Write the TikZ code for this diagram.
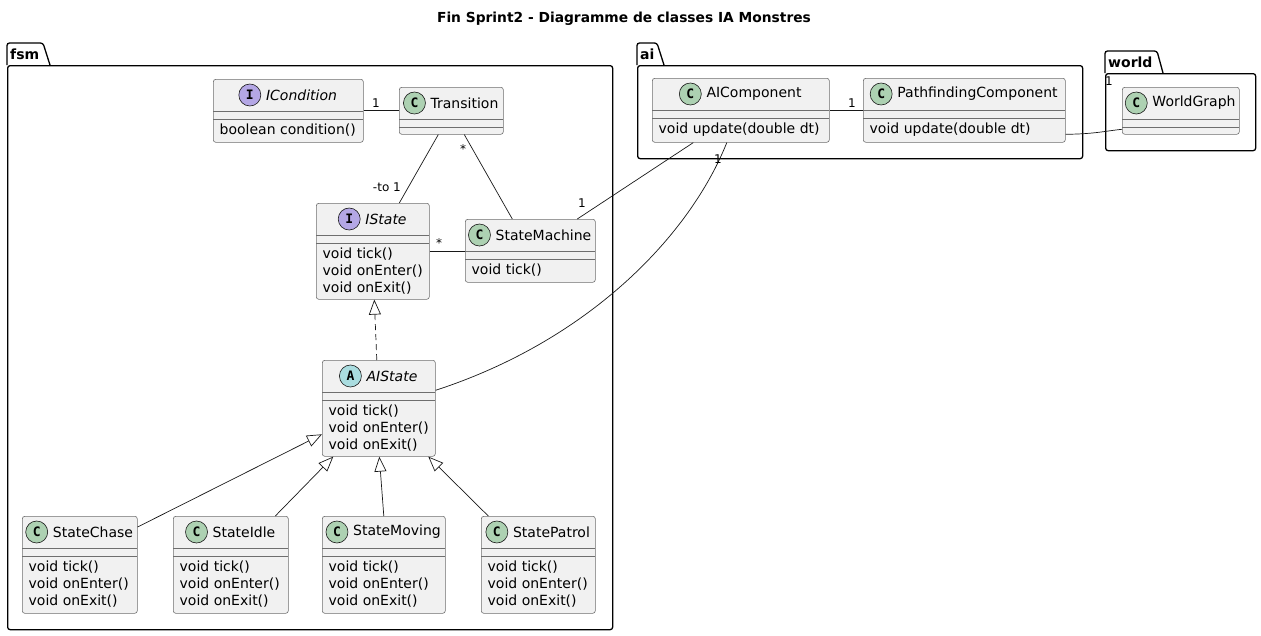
\documentclass[tikz,border=0pt]{standalone}
\usepackage{fontspec}
\setmainfont{DejaVu Sans}
\newfontfamily\letterfont{DejaVu Sans Mono}
\usetikzlibrary{arrows.meta}
\definecolor{boxfill}{HTML}{F1F1F1}
\definecolor{ink}{HTML}{181818}
\definecolor{boxline}{HTML}{6E6E6E}
\definecolor{ccls}{HTML}{ADD1B2}
\definecolor{cint}{HTML}{B4A7E5}
\definecolor{cabs}{HTML}{A9DCDF}
\tikzset{
  classbox/.style={draw=boxline, fill=boxfill, line width=0.6pt, rounded corners=2.5pt, inner sep=0pt},
  classline/.style={draw=boxline, line width=0.5pt},
  pkgbox/.style={draw=black, line width=1.3pt, rounded corners=2.5pt, inner sep=0pt},
  pkglabel/.style={font=\fontsize{14}{16}\selectfont\bfseries, inner sep=0pt},
  icon/.style={circle, draw=ink, line width=0.6pt, minimum size=22pt, inner sep=0pt, font=\fontsize{13}{13}\letterfont\bfseries},
  member/.style={font=\fontsize{14}{17}\selectfont, inner sep=0pt, anchor=west},
  conn/.style={draw=ink, line width=0.7pt},
  mult/.style={font=\fontsize{12}{14}\selectfont, inner sep=0pt},
  gen/.style={conn, -{Triangle[open, length=15pt, width=12pt, fill=white]}},
}
% #1 name, #2 x1, #3 y1, #4 x2, #5 y2, #6 letter, #7 colour, #8 title, #9 members
\newcommand\umlclass[9]{%
  \node[classbox, minimum width={#4-#2}, minimum height={#5-#3}, anchor=north west] (#1) at (#2,#3) {};
  \draw[classline] (#2,#3+32) -- (#4,#3+32);
  \draw[classline] (#2,#3+40) -- (#4,#3+40);
  \node[inner sep=0pt, font=\fontsize{14}{17}\selectfont] (#1-t) at ({(#2+#4)/2},#3+16) {\hspace*{27pt}#8};
  \node[icon, fill=#7] (#1-i) at ([xshift=11pt]#1-t.west) {#6};
  \foreach \m [count=\i] in {#9} {\node[member] at (#2+6.5, #3+40+11.5+17*\i-17) {\m};}
}
\begin{document}
\begin{tikzpicture}[x=1pt, y=-1pt]
\useasboundingbox (0,0) rectangle (1261,635);
% title
\node[font=\fontsize{13.8}{16}\selectfont\bfseries, inner sep=0pt] (title) at (624,19) {Fin Sprint2 - Diagramme de classes IA Monstres};
% packages
\draw[pkgbox] (7,65) -- (7,43) -- (43,43) -- (50,65);
\node[pkgbox, minimum width=605pt, minimum height=564pt, anchor=north west] (fsm) at (7,65) {};
\node[pkglabel, anchor=west] (fsm-l) at (10,54) {fsm};
\draw[pkgbox] (637,65) -- (637,43) -- (657,43) -- (664,65);
\node[pkgbox, minimum width=445pt, minimum height=93pt, anchor=north west] (ai) at (637,65) {};
\node[pkglabel, anchor=west] (ai-l) at (640,54) {ai};
\draw[pkgbox] (1105,73) -- (1105,51) -- (1157,51) -- (1163,73);
\node[pkgbox, minimum width=150pt, minimum height=77pt, anchor=north west] (world) at (1105,73) {};
\node[pkglabel, anchor=west] (world-l) at (1108,62) {world};
% classes
\umlclass{ICondition}{213}{79}{363}{142}{I}{cint}{\itshape ICondition}{boolean condition()}
\umlclass{Transition}{399}{87}{503}{134}{C}{ccls}{Transition}{}
\umlclass{IState}{316}{203}{429}{299}{I}{cint}{\itshape IState}{void tick(),void onEnter(),void onExit()}
\umlclass{StateMachine}{465}{219}{595}{282}{C}{ccls}{StateMachine}{void tick()}
\umlclass{AIState}{322}{360}{435}{456}{A}{cabs}{\itshape AIState}{void tick(),void onEnter(),void onExit()}
\umlclass{StateChase}{22}{516}{137}{613}{C}{ccls}{StateChase}{void tick(),void onEnter(),void onExit()}
\umlclass{StateIdle}{173}{516}{288}{613}{C}{ccls}{StateIdle}{void tick(),void onEnter(),void onExit()}
\umlclass{StateMoving}{322}{516}{445}{613}{C}{ccls}{StateMoving}{void tick(),void onEnter(),void onExit()}
\umlclass{StatePatrol}{481}{516}{595}{613}{C}{ccls}{StatePatrol}{void tick(),void onEnter(),void onExit()}
\umlclass{AIComponent}{652}{78}{829}{142}{C}{ccls}{AIComponent}{void update(double dt)}
\umlclass{Pathfinding}{863}{78}{1065}{142}{C}{ccls}{PathfindingComponent}{void update(double dt)}
\umlclass{WorldGraph}{1122}{87}{1239}{134}{C}{ccls}{WorldGraph}{}
% connectors
\draw[conn] (ICondition.east) -- (Transition.west);
\node[mult] (m1) at (376,103) {1};
\draw[conn] ([xshift=-13pt]Transition.south) -- ([xshift=26.5pt]IState.north);
\node[mult, anchor=east] (m2) at (401,187) {-to 1};
\draw[conn] ([xshift=13pt]Transition.south) -- ([xshift=-18pt]StateMachine.north);
\node[mult] (m3) at (463,149) {*};
\draw[conn] (IState.east) -- (StateMachine.west |- IState.east);
\node[mult] (m4) at (439,243) {*};
\draw[conn, dashed, dash pattern=on 6pt off 4pt, -{Triangle[open, length=15pt, width=12pt, fill=white]}] ([xshift=-2pt]AIState.north) -- ([xshift=1.5pt]IState.south);
\draw[gen] ([yshift=-11pt]StateChase.north east) -- ([yshift=-26pt]AIState.west);
\draw[gen] ([xshift=44.5pt]StateIdle.north) -- ([xshift=-45.5pt]AIState.south);
\draw[gen] (StateMoving.north) -- ([xshift=0.5pt]AIState.south);
\draw[gen] ([xshift=-50pt]StatePatrol.north) -- ([xshift=49.5pt]AIState.south);
\draw[conn] ([xshift=-47.5pt]AIComponent.south) -- ([xshift=47pt]StateMachine.north);
\node[mult] (m5) at (582,203) {1};
\draw[conn] ([xshift=-14pt]AIComponent.south) .. controls (690,235) and (590,340) .. ([yshift=18pt]AIState.east);
\node[mult] (m6) at (718,159) {1};
\draw[conn] (AIComponent.east) -- (Pathfinding.west);
\node[mult] (m7) at (852,103) {1};
\draw[conn] ([yshift=-24pt]Pathfinding.east) .. controls (1095,134) and (1105,131) .. ([yshift=-18.5pt]WorldGraph.west);
\node[mult] (m8) at (1109,81) {1};
\end{tikzpicture}
\end{document}
